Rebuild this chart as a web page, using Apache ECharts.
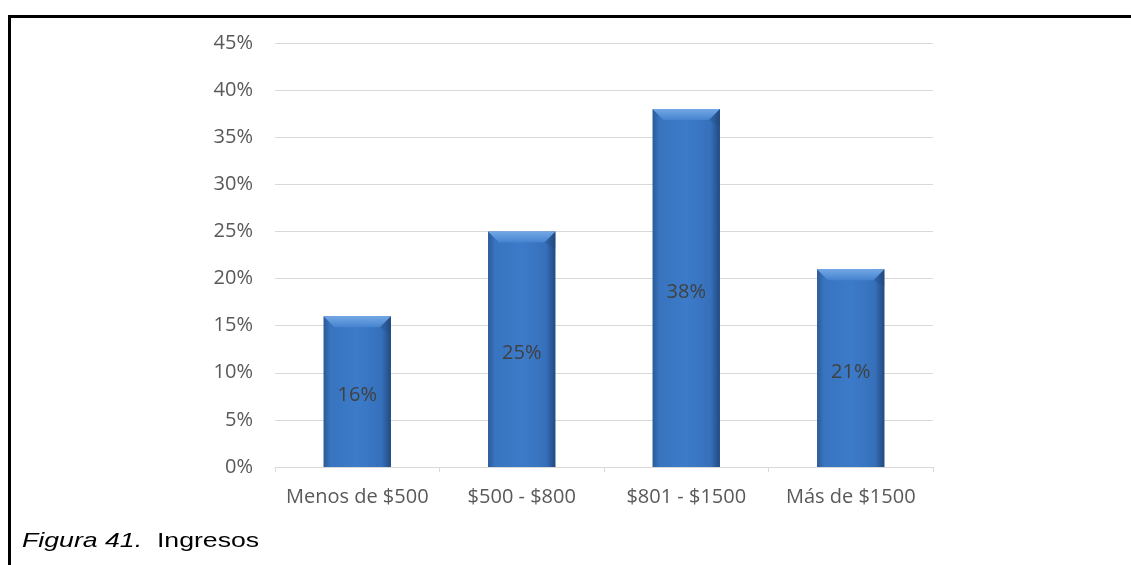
<!DOCTYPE html>
<html>
<head>
<meta charset="utf-8">
<style>
  html, body { margin: 0; padding: 0; background: #ffffff; }
  #chart { width: 1131px; height: 565px; }
</style>
<script src="https://cdn.jsdelivr.net/npm/echarts@6/dist/echarts.min.js"></script>
</head>
<body>
<div id="chart"></div>
<script>
// Income brackets and share of respondents in each (%)
const categories = ['Menos de $500', '$500 - $800', '$801 - $1500', 'Más de $1500'];
const shares = [16, 25, 38, 21];
const yTicks = { min: 0, max: 45, interval: 5 };

const BAR_RATIO = 0.41;   // bar width as a share of the category band
const BEVEL = 11;         // depth of the lit top bevel, px

const chart = echarts.init(document.getElementById('chart'), null, { renderer: 'canvas' });

const barFill = new echarts.graphic.LinearGradient(0, 0, 1, 0, [
  { offset: 0, color: '#2b5a97' },
  { offset: 0.1, color: '#3874bf' },
  { offset: 0.5, color: '#3c7bc9' },
  { offset: 0.86, color: '#3670bb' },
  { offset: 1, color: '#214a80' }
]);

// Lit bevel along the top edge of each bar, placed through the axis scales
function renderBevel(params, api) {
  const top = api.coord([api.value(0), api.value(1)]);
  const band = api.size([1, 0])[0];
  const w = band * BAR_RATIO;
  const x0 = top[0] - w / 2, x1 = top[0] + w / 2, y = top[1];
  return {
    type: 'group',
    children: [
      {
        type: 'polygon',
        shape: { points: [[x0, y], [x1, y], [x1 - BEVEL, y + BEVEL], [x0 + BEVEL, y + BEVEL]] },
        style: {
          fill: new echarts.graphic.LinearGradient(0, 0, 0, 1, [
            { offset: 0, color: '#74a8e6' },
            { offset: 1, color: '#4583cf' }
          ])
        }
      },
      {
        type: 'polygon',
        shape: { points: [[x1, y], [x1, y + BEVEL * 1.6], [x1 - BEVEL, y + BEVEL]] },
        style: { fill: 'rgba(30,66,115,0.25)' }
      }
    ]
  };
}

chart.setOption({
  animation: false,
  backgroundColor: '#ffffff',
  grid: { left: 275, right: 198, top: 43, bottom: 98 },
  xAxis: {
    type: 'category',
    data: categories,
    axisLine: { lineStyle: { color: '#d9d9d9', width: 1 } },
    axisTick: { show: true, interval: 0, alignWithLabel: false, length: 5, lineStyle: { color: '#d9d9d9' } },
    axisLabel: { interval: 0, color: '#595959', fontFamily: 'Open Sans', fontSize: 20, margin: 20 }
  },
  yAxis: {
    type: 'value',
    min: yTicks.min,
    max: yTicks.max,
    interval: yTicks.interval,
    axisLine: { show: false },
    axisTick: { show: false },
    splitLine: { lineStyle: { color: '#d9d9d9', width: 1 } },
    axisLabel: { color: '#595959', fontFamily: 'Open Sans', fontSize: 20, margin: 22, formatter: '{value}%' }
  },
  series: [
    {
      type: 'bar',
      data: shares,
      barWidth: (BAR_RATIO * 100) + '%',
      itemStyle: { color: barFill },
      label: {
        show: true,
        position: 'inside',
        offset: [0, 4],
        formatter: '{c}%',
        color: '#404040',
        fontFamily: 'Open Sans',
        fontSize: 20
      },
      z: 2
    },
    {
      type: 'custom',
      data: shares.map((v, i) => [i, v]),
      renderItem: renderBevel,
      silent: true,
      z: 3
    }
  ],
  graphic: [
    { type: 'line', shape: { x1: 8, y1: 16.5, x2: 1131, y2: 16.5 }, style: { stroke: '#000', lineWidth: 3 } },
    { type: 'line', shape: { x1: 9.5, y1: 15, x2: 9.5, y2: 565 }, style: { stroke: '#000', lineWidth: 3 } },
    {
      type: 'text', x: 22, y: 531, scaleX: 1.27,
      style: {
        x: 0, y: 0,
        text: '{i|Figura 41.}{n|  Ingresos}',
        rich: {
          i: { fontFamily: 'Liberation Sans', fontStyle: 'italic', fontSize: 21, fill: '#000' },
          n: { fontFamily: 'Liberation Sans', fontSize: 21, fill: '#000' }
        }
      }
    }
  ]
});
</script>
</body>
</html>
